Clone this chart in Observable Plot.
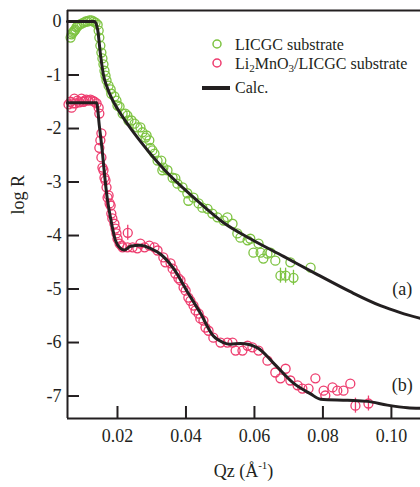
<!DOCTYPE html>
<html><head><meta charset="utf-8">
<script src="https://cdn.jsdelivr.net/npm/d3@7"></script>
<script src="https://cdn.jsdelivr.net/npm/@observablehq/plot@0.6"></script>
<style>html,body{margin:0;padding:0;background:#fff}#chart{width:420px;height:487px}</style>
</head><body><div id="chart"></div>
<script>
// ---- data ----
const greenQ = [0.0063,0.0066,0.0069,0.0072,0.0074,0.0077,0.0080,0.0083,0.0089,0.0095,0.0101,0.0107,0.0112,0.0118,0.0124,0.0130,0.0136,0.0142,0.0145,0.0147,0.0150,0.0153,0.0156,0.0159,0.0162,0.0165,0.0168,0.0174,0.0180,0.0182,0.0191,0.0197,0.0200,0.0206,0.0215,0.0223,0.0229,0.0232,0.0241,0.0250,0.0258,0.0267,0.0273,0.0282,0.0285,0.0293,0.0296,0.0302,0.0308,0.0317,0.0328,0.0331,0.0334,0.0346,0.0361,0.0369,0.0375,0.0390,0.0404,0.0407,0.0422,0.0437,0.0448,0.0463,0.0477,0.0492,0.0510,0.0521,0.0536,0.0550,0.0559,0.0580,0.0588,0.0597,0.0612,0.0618,0.0626,0.0638,0.0647,0.0661,0.0676,0.0691,0.0705,0.0714,0.0764];
const greenLogR = [-0.30,-0.24,-0.21,-0.19,-0.17,-0.15,-0.11,-0.09,-0.06,-0.04,-0.02,0,0,0.02,0.02,0,-0.02,-0.06,-0.17,-0.30,-0.45,-0.58,-0.69,-0.80,-0.92,-1.01,-1.10,-1.20,-1.27,-1.35,-1.40,-1.48,-1.57,-1.59,-1.72,-1.72,-1.76,-1.85,-1.85,-1.91,-1.98,-1.98,-2.07,-2.17,-2.13,-2.22,-2.36,-2.41,-2.47,-2.60,-2.60,-2.78,-2.73,-2.78,-2.92,-2.93,-3.03,-3.10,-3.21,-3.35,-3.29,-3.40,-3.48,-3.50,-3.59,-3.66,-3.72,-3.66,-3.78,-3.96,-4.04,-4.09,-4.06,-4.32,-4.15,-4.32,-4.43,-4.34,-4.32,-4.47,-4.75,-4.75,-4.50,-4.79,-4.60];

const pinkQ = [0.0057,0.0063,0.0066,0.0069,0.0074,0.0077,0.0083,0.0089,0.0095,0.0101,0.0104,0.0109,0.0115,0.0121,0.0127,0.0133,0.0139,0.0145,0.0147,0.0153,0.0150,0.0147,0.0153,0.0156,0.0159,0.0162,0.0165,0.0168,0.0171,0.0174,0.0177,0.0180,0.0182,0.0185,0.0191,0.0194,0.0197,0.0200,0.0206,0.0212,0.0215,0.0230,0.0229,0.0244,0.0258,0.0267,0.0279,0.0293,0.0308,0.0317,0.0334,0.0340,0.0355,0.0361,0.0369,0.0378,0.0384,0.0393,0.0399,0.0407,0.0413,0.0422,0.0428,0.0437,0.0442,0.0451,0.0457,0.0466,0.0480,0.0501,0.0521,0.0536,0.0545,0.0565,0.0580,0.0594,0.0612,0.0638,0.0661,0.0676,0.0691,0.0705,0.0726,0.0740,0.0758,0.0778,0.0802,0.0807,0.0828,0.0842,0.0860,0.0880,0.0895,0.0933];
const pinkLogR = [-1.55,-1.50,-1.61,-1.53,-1.44,-1.53,-1.48,-1.51,-1.44,-1.50,-1.48,-1.46,-1.48,-1.46,-1.48,-1.50,-1.53,-1.61,-1.72,-2.09,-2.22,-2.36,-2.54,-2.73,-2.78,-2.92,-2.97,-3.10,-3.29,-3.25,-3.40,-3.44,-3.59,-3.68,-3.78,-3.87,-3.96,-4.06,-4.15,-4.19,-4.22,-3.95,-4.22,-4.22,-4.24,-4.15,-4.22,-4.19,-4.22,-4.28,-4.41,-4.50,-4.52,-4.62,-4.71,-4.80,-4.84,-4.97,-5.03,-5.16,-5.22,-5.31,-5.40,-5.46,-5.55,-5.59,-5.72,-5.78,-5.91,-6.00,-6.00,-6.00,-6.15,-6.15,-6.06,-6.09,-6.15,-6.34,-6.56,-6.67,-6.49,-6.71,-6.80,-6.86,-6.86,-6.67,-6.90,-6.99,-6.84,-6.90,-6.90,-6.77,-7.18,-7.14];

const greenErrQ = [0.0676,0.0691,0.0714];
const greenErrLo = [-4.89,-4.89,-4.93];
const greenErrHi = [-4.61,-4.61,-4.65];
const pinkErrQ = [0.0230,0.0895,0.0933];
const pinkErrLo = [-4.09,-7.32,-7.28];
const pinkErrHi = [-3.81,-7.04,-7.00];

const calcAQ = [0.0054,0.0133,0.0142,0.0150,0.0159,0.0171,0.0185,0.0200,0.0220,0.0241,0.0267,0.0296,0.0337,0.0393,0.0442,0.0510,0.0588,0.0685,0.0784,0.0880,0.0968,0.1026,0.1085];
const calcALogR = [0,0,-0.15,-0.60,-1.00,-1.25,-1.46,-1.63,-1.83,-2.02,-2.24,-2.47,-2.77,-3.12,-3.40,-3.76,-4.06,-4.39,-4.73,-5.05,-5.31,-5.44,-5.55];
const calcBQ = [0.0054,0.0139,0.0147,0.0156,0.0162,0.0170,0.0180,0.0194,0.0209,0.0220,0.0238,0.0267,0.0296,0.0326,0.0364,0.0404,0.0442,0.0480,0.0509,0.0530,0.0559,0.0609,0.0655,0.0714,0.0764,0.0793,0.0872,0.0930,0.0988,0.1047,0.1085];
const calcBLogR = [-1.52,-1.52,-1.95,-2.45,-2.85,-3.30,-3.68,-4.09,-4.24,-4.27,-4.20,-4.18,-4.24,-4.35,-4.62,-5.05,-5.45,-5.88,-6.00,-6.03,-6.02,-6.10,-6.38,-6.76,-6.96,-7.06,-7.08,-7.10,-7.17,-7.22,-7.23];

const xTicks = [0.02,0.04,0.06,0.08,0.10];
const yTicks = [0,-1,-2,-3,-4,-5,-6,-7];
const annotText = ["(a)","(b)"];
const annotQ = [0.1032,0.1032];
const annotLogR = [-5.01,-6.80];
const legendLabels = ["LICGC substrate","Li2MnO3/LICGC substrate","Calc."];

// ---- styles ----
const ink = "#231f20";
const green = "#7dc341";
const pink = "#ee3c6e";
const font = "'Liberation Serif', 'DejaVu Serif', serif";
const xDomain = [0.0054, 0.1085];
const yDomain = [-7.42, 0.206];
const W = 420, H = 487, mL = 67, mR = 0, mT = 10, mB = 69, tickLen = 12;
const frameW = W - mL - mR, frameH = H - mT - mB;

const zip = (q, v) => q.map((d, i) => ({q: d, v: v[i]}));
const greenData = zip(greenQ, greenLogR);
const pinkData = zip(pinkQ, pinkLogR);
const calcA = zip(calcAQ, calcALogR);
const calcB = zip(calcBQ, calcBLogR);
const greenErr = greenErrQ.map((q, i) => ({q, lo: greenErrLo[i], hi: greenErrHi[i]}));
const pinkErr = pinkErrQ.map((q, i) => ({q, lo: pinkErrLo[i], hi: pinkErrHi[i]}));
const annots = annotText.map((t, i) => ({t, q: annotQ[i], v: annotLogR[i]}));

const plot = Plot.plot({
  width: W, height: H,
  marginLeft: mL, marginRight: mR, marginTop: mT, marginBottom: mB,
  style: {fontFamily: font, fontSize: "18px", color: ink, background: "#fff", overflow: "visible"},
  x: {domain: xDomain},
  y: {domain: yDomain},
  marks: [
    Plot.axisX(xTicks, {tickSize: 0, tickPadding: 11, tickFormat: d3.format(".2f"), label: null, fontSize: 18, fill: ink}),
    Plot.axisY(yTicks, {tickSize: 0, tickPadding: 6, tickFormat: d => String(d), label: null, fontSize: 18, fill: ink}),
    Plot.tickX(xTicks, {x: d => d, insetTop: frameH - tickLen, stroke: ink, strokeWidth: 2}),
    Plot.tickY(yTicks, {y: d => d, insetRight: frameW - tickLen, stroke: ink, strokeWidth: 2}),
    Plot.ruleX(greenErr, {x: "q", y1: "lo", y2: "hi", stroke: green, strokeWidth: 1.3}),
    Plot.ruleX(pinkErr, {x: "q", y1: "lo", y2: "hi", stroke: pink, strokeWidth: 1.3}),
    Plot.dot(greenData, {x: "q", y: "v", r: 4.5, stroke: green, strokeWidth: 1.3, fill: "none"}),
    Plot.dot(pinkData, {x: "q", y: "v", r: 4.5, stroke: pink, strokeWidth: 1.3, fill: "none"}),
    Plot.line(calcA, {x: "q", y: "v", stroke: ink, strokeWidth: 3, curve: "monotone-x"}),
    Plot.line(calcB, {x: "q", y: "v", stroke: ink, strokeWidth: 3, curve: "monotone-x"}),
    Plot.ruleX([xDomain[0]], {stroke: ink, strokeWidth: 2}),
    Plot.ruleY([yDomain[0], yDomain[1]], {stroke: ink, strokeWidth: 2}),
    Plot.text(annots, {x: "q", y: "v", text: "t", fontSize: 18, fill: ink}),
    Plot.text(["log R"], {frameAnchor: "left", dx: -49, rotate: -90, fontSize: 18, fill: ink})
  ]
});
document.getElementById("chart").appendChild(plot);

// ---- legend and x-axis title (need sub/superscripts) ----
const svg = d3.select(plot);
const lg = svg.append("g").attr("font-family", font).attr("font-size", 16).attr("fill", ink).attr("text-anchor", "start");
lg.append("circle").attr("cx", 217).attr("cy", 44).attr("r", 4).attr("fill", "none").attr("stroke", green).attr("stroke-width", 1.5);
lg.append("circle").attr("cx", 217).attr("cy", 63).attr("r", 4).attr("fill", "none").attr("stroke", pink).attr("stroke-width", 1.5);
lg.append("line").attr("x1", 202).attr("x2", 230).attr("y1", 88).attr("y2", 88).attr("stroke", ink).attr("stroke-width", 4);
lg.append("text").attr("x", 235).attr("y", 50).text(legendLabels[0]);
const t2 = lg.append("text").attr("x", 235).attr("y", 69);
t2.append("tspan").text("Li");
t2.append("tspan").attr("font-size", 11).attr("dy", 3).text("2");
t2.append("tspan").attr("dy", -3).text("MnO");
t2.append("tspan").attr("font-size", 11).attr("dy", 3).text("3");
t2.append("tspan").attr("dy", -3).text("/LICGC substrate");
lg.append("text").attr("x", 235).attr("y", 93).text(legendLabels[2]);

const xt = svg.append("text").attr("font-family", font).attr("font-size", 18).attr("fill", ink)
  .attr("x", mL + frameW * 0.50).attr("y", 477).attr("text-anchor", "middle");
xt.append("tspan").text("Qz (Å");
xt.append("tspan").attr("font-size", 11).attr("dy", -8).text("-1");
xt.append("tspan").attr("dy", 8).text(")");
</script>
</body></html>
